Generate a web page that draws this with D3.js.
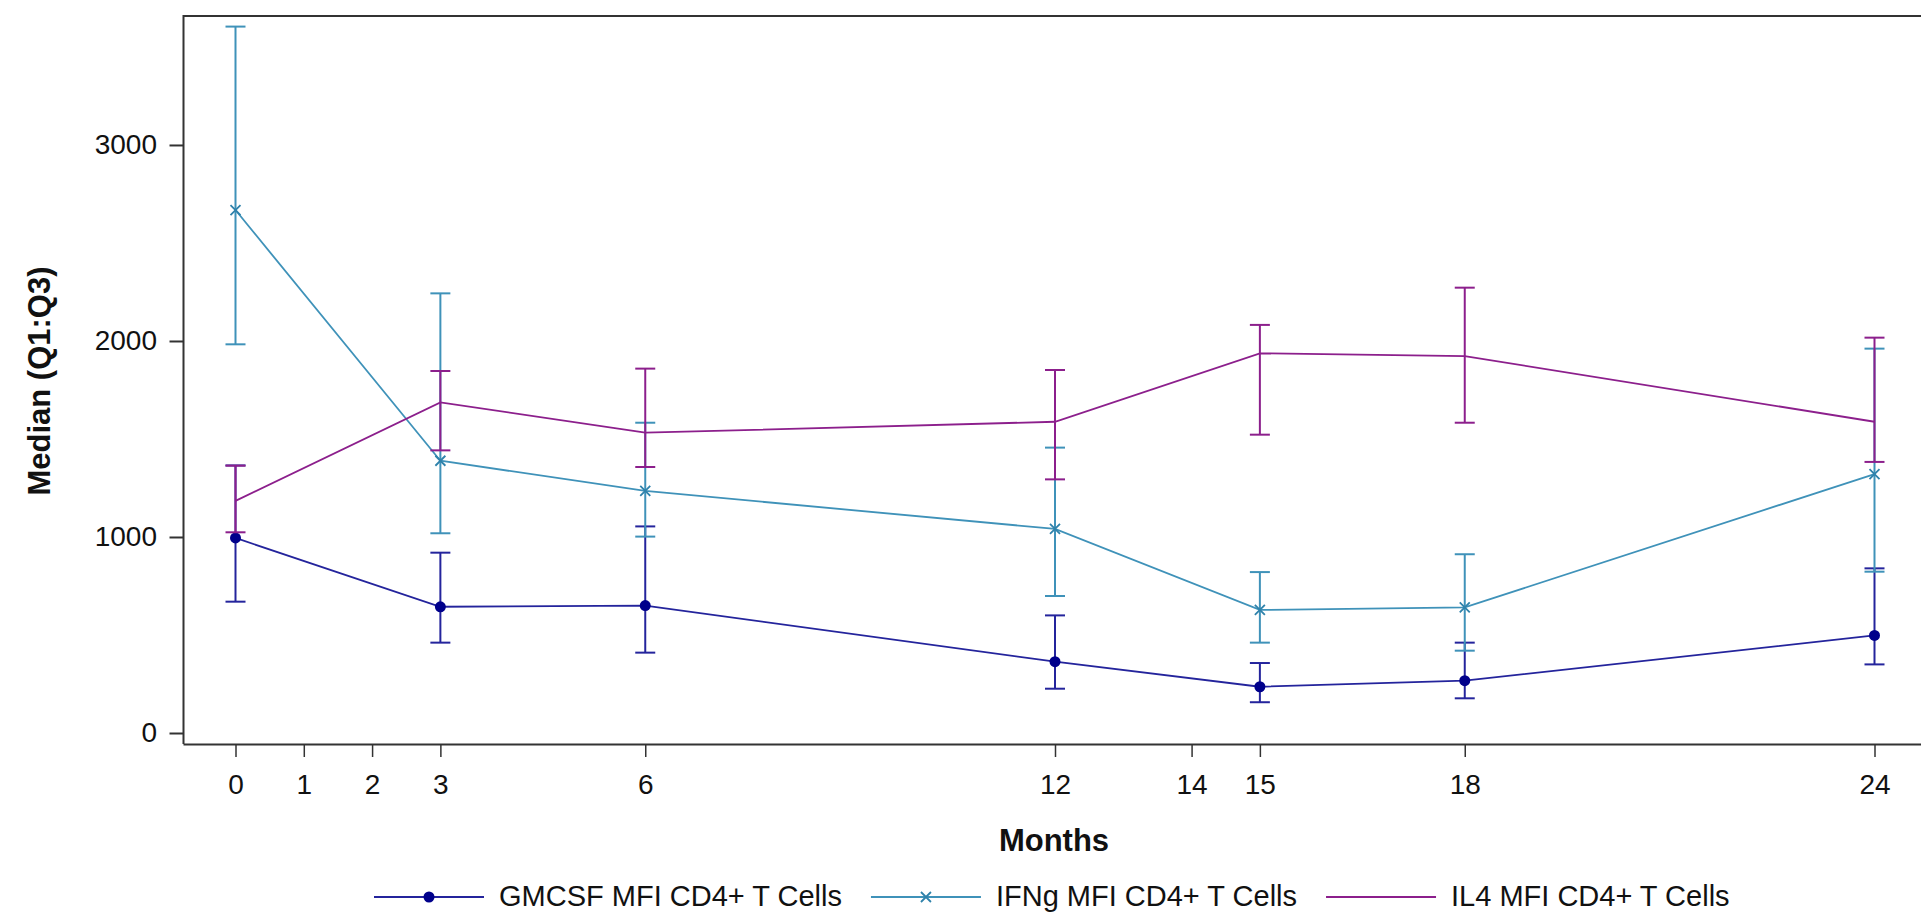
<!DOCTYPE html>
<html>
<head>
<meta charset="utf-8">
<script src="https://cdn.jsdelivr.net/npm/d3@7"></script>
<style>
  html, body { margin: 0; padding: 0; background: #fff; overflow: hidden; }
  svg { display: block; }
  text { font-family: "Liberation Sans", Arial, sans-serif; fill: #111; }
</style>
</head>
<body>
<svg id="chart" width="1921" height="913"></svg>
<script>
// ---- Data ----
const months = [0, 3, 6, 12, 15, 18, 24];
const xTickValues = [0, 1, 2, 3, 6, 12, 14, 15, 18, 24];
const yTickValues = [0, 1000, 2000, 3000];

const gmcsfMedian = [995, 644, 650, 364, 236, 267, 498];
const gmcsfQ1     = [670, 461, 410, 226, 157, 177, 350];
const gmcsfQ3     = [1365, 920, 1054, 600, 357, 461, 840];

const ifngMedian = [2668, 1389, 1235, 1041, 628, 641, 1321];
const ifngQ1     = [1983, 1019, 1002, 699, 461, 420, 823];
const ifngQ3     = [3604, 2243, 1583, 1456, 821, 912, 1961];

const il4Median = [1184, 1687, 1532, 1588, 1937, 1923, 1588];
const il4Q1     = [1024, 1442, 1357, 1294, 1522, 1583, 1383];
const il4Q3     = [1364, 1847, 1859, 1852, 2082, 2272, 2017];

const seriesNames = ["GMCSF MFI CD4+ T Cells", "IFNg MFI CD4+ T Cells", "IL4 MFI CD4+ T Cells"];
const xTitle = "Months";
const yTitle = "Median (Q1:Q3)";

// ---- Layout ----
const svg = d3.select("#chart");
const plot = { left: 183.5, top: 16, right: 1925, bottom: 744 };

const x = d3.scaleLinear().domain([0, 24]).range([235.5, 1874.5]);
const y = d3.scaleLinear().domain([-56.1, 3658]).range([plot.bottom, plot.top]);

const series = [
  { name: seriesNames[0], med: gmcsfMedian, q1: gmcsfQ1, q3: gmcsfQ3, line: "#24249c", mark: "#00008b", marker: "circle" },
  { name: seriesNames[1], med: ifngMedian,  q1: ifngQ1,  q3: ifngQ3,  line: "#3f92b9", mark: "#2f82ab", marker: "x" },
  { name: seriesNames[2], med: il4Median,   q1: il4Q1,   q3: il4Q3,   line: "#8c1f8c", mark: "#8c1f8c", marker: "none" }
];

// Frame
svg.append("path")
  .attr("d", `M${plot.left},${plot.bottom} V${plot.top} H${plot.right}`)
  .attr("fill", "none").attr("stroke", "#333").attr("stroke-width", 2);

// Axes
const xAxis = d3.axisBottom(x).tickValues(xTickValues).tickSizeInner(13).tickSizeOuter(0).tickPadding(17).tickFormat(d3.format("d"));
const gx = svg.append("g").attr("transform", `translate(0,${plot.bottom})`).call(xAxis);
gx.select(".domain").attr("d", `M${plot.left},0.5H${plot.right}`).attr("stroke", "#333").attr("stroke-width", 2);
gx.selectAll(".tick line").attr("stroke", "#333").attr("stroke-width", 1.5);
gx.selectAll(".tick text").style("font-size", "28px").style("fill", "#111")
  .style("font-family", '"Liberation Sans", Arial, sans-serif');

const yAxis = d3.axisLeft(y).tickValues(yTickValues).tickSizeInner(14).tickSizeOuter(0).tickPadding(12.5).tickFormat(d3.format("d"));
const gy = svg.append("g").attr("transform", `translate(${plot.left},0)`).call(yAxis);
gy.select(".domain").remove();
gy.selectAll(".tick line").attr("stroke", "#333").attr("stroke-width", 2);
gy.selectAll(".tick text").style("font-size", "28px").style("fill", "#111")
  .style("font-family", '"Liberation Sans", Arial, sans-serif');

// Axis titles
svg.append("text").attr("x", 1054).attr("y", 851).attr("text-anchor", "middle")
  .style("font-size", "31px").style("font-weight", "bold").text(xTitle);
svg.append("text").attr("transform", "translate(50,381) rotate(-90)").attr("text-anchor", "middle")
  .style("font-size", "31px").style("font-weight", "bold").text(yTitle);

// Series
const capHalf = 10;
const lineGen = d3.line().x(d => x(d.m)).y(d => y(d.v));

series.forEach(s => {
  const pts = months.map((m, i) => ({ m, v: s.med[i], lo: s.q1[i], hi: s.q3[i] }));
  const g = svg.append("g");
  // error bars
  pts.forEach(p => {
    g.append("line").attr("x1", x(p.m)).attr("x2", x(p.m)).attr("y1", y(p.lo)).attr("y2", y(p.hi))
      .attr("stroke", s.line).attr("stroke-width", 2);
    [p.lo, p.hi].forEach(v => {
      g.append("line").attr("x1", x(p.m) - capHalf).attr("x2", x(p.m) + capHalf).attr("y1", y(v)).attr("y2", y(v))
        .attr("stroke", s.line).attr("stroke-width", 2);
    });
  });
  // median line
  g.append("path").datum(pts).attr("d", lineGen).attr("fill", "none")
    .attr("stroke", s.line).attr("stroke-width", 1.8);
  // markers
  pts.forEach(p => drawMarker(g, s, x(p.m), y(p.v)));
});

function drawMarker(g, s, cx, cy) {
  if (s.marker === "circle") {
    g.append("circle").attr("cx", cx).attr("cy", cy).attr("r", 5.5).attr("fill", s.mark);
  } else if (s.marker === "x") {
    const r = 5;
    g.append("path").attr("d", `M${cx - r},${cy - r}L${cx + r},${cy + r}M${cx - r},${cy + r}L${cx + r},${cy - r}`)
      .attr("stroke", s.mark).attr("stroke-width", 1.8).attr("fill", "none");
  }
}

// Legend
let lx = 374;
const ly = 897;
series.forEach(s => {
  const g = svg.append("g");
  g.append("line").attr("x1", lx).attr("x2", lx + 110).attr("y1", ly).attr("y2", ly)
    .attr("stroke", s.line).attr("stroke-width", 2);
  drawMarker(g, s, lx + 55, ly);
  const t = g.append("text").attr("x", lx + 125).attr("y", ly + 9).style("font-size", "29px").text(s.name);
  lx = lx + 125 + t.node().getComputedTextLength() + 29;
});
</script>
</body>
</html>
